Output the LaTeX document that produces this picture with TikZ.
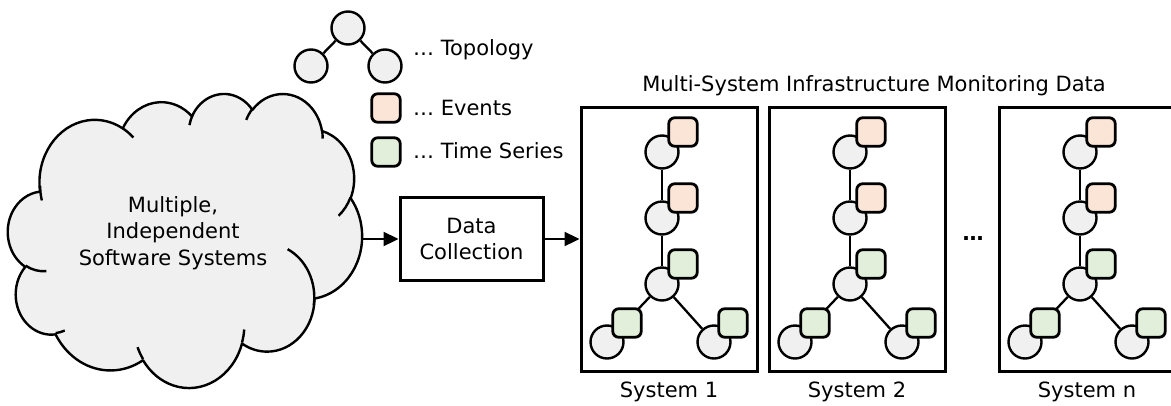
\documentclass[tikz,border=0pt]{standalone}
\usepackage{fontspec}
\setmainfont{DejaVu Sans}
\usetikzlibrary{arrows.meta}
\definecolor{nodegray}{HTML}{F0F0F0}
\definecolor{evfill}{HTML}{FBE5D6}
\definecolor{tsfill}{HTML}{E2EFDA}
% cloud (Office-style) geometry helpers; move coordinates given in tenths
\newcommand\ooSX{0.0081944}
\newcommand\ooSY{0.0068056}
\newcommand\ooOX{8}
\newcommand\ooOY{93}
\newcommand\ooMove[2]{\pgfpathmoveto{\pgfpointxy{\ooOX+#1*\ooSX*10}{\ooOY+#2*\ooSY*10}}}
\newcommand\ooArc[4]{%
  \pgfmathsetmacro\ooS{#3}%
  \pgfmathsetmacro\ooE{#3+#4}%
  \pgfmathsetmacro\ooTS{atan2(#1*sin(\ooS),#2*cos(\ooS))}%
  \pgfmathsetmacro\ooTE{atan2(#1*sin(\ooE),#2*cos(\ooE))}%
  \pgfmathsetmacro\ooD{\ooTE-(\ooTS)}%
  \pgfmathsetmacro\ooD{\ooD<0 ? \ooD+360 : \ooD}%
  \pgfmathsetmacro\ooD{\ooD>360 ? \ooD-360 : \ooD}%
  \pgfmathsetmacro\ooA{0-(\ooTS)}%
  \pgfmathsetmacro\ooB{0-(\ooTS)-(\ooD)}%
  \pgfmathsetmacro\ooRX{#1*\ooSX}%
  \pgfmathsetmacro\ooRY{#2*\ooSY}%
  \pgfpatharc{\ooA}{\ooB}{\ooRX pt and \ooRY pt}%
}
\tikzset{
  every node/.style={font=\fontsize{21}{26.5}\selectfont},
  topo/.style={circle, draw, line width=2.4pt, fill=nodegray, minimum size=33pt, inner sep=0pt},
  evsq/.style={draw, line width=2.8pt, fill=evfill, rounded corners=6pt, minimum size=28.5pt, inner sep=0pt},
  tssq/.style={draw, line width=2.8pt, fill=tsfill, rounded corners=6pt, minimum size=28.5pt, inner sep=0pt},
  link/.style={line width=2.3pt},
  sysbox/.style={draw, line width=3pt, minimum width=176pt, minimum height=264pt, inner sep=0pt},
  procbox/.style={draw, line width=3pt, minimum width=143pt, minimum height=83pt, inner sep=0pt, align=center},
  flow/.style={line width=2.3pt, -{Triangle[length=15pt,width=14pt]}},
  legtext/.style={anchor=base west, inner sep=0pt},
}
\begin{document}
\begin{tikzpicture}[x=1pt, y=-1pt]
\useasboundingbox (0,0) rectangle (1171,405);

% ---- cloud ----
\begin{pgfscope}
  \pgfsetlinewidth{2.4pt}
  \pgfsetroundjoin
  \pgfsetfillcolor{nodegray}
  \pgfsetstrokecolor{black}
  \ooMove{390.0}{1437.0}
  \ooArc{6753}{9190}{-190.4875}{123.7805}
  \ooArc{5333}{7267}{-144.1024}{89.9452}
  \ooArc{4365}{5945}{-145.8079}{99.7230}
  \ooArc{4857}{6595}{-130.9861}{117.2417}
  \ooArc{5333}{7273}{-78.7089}{109.0269}
  \ooArc{6775}{9220}{-46.2673}{130.2690}
  \ooArc{5785}{7867}{0.6250}{114.0333}
  \ooArc{6752}{9215}{22.4516}{115.1726}
  \ooArc{7720}{10543}{66.2426}{75.7110}
  \ooArc{4360}{5918}{-274.9421}{146.7356}
  \ooArc{4345}{5945}{-246.8285}{152.5189}
  \pgfpathclose
  \pgfusepath{fill,stroke}
  \ooMove{469.3}{2617.7}\ooArc{4345}{5945}{86.7420}{26.4295}
  \ooMove{692.8}{3489.9}\ooArc{4360}{5918}{73.6105}{11.4475}
  \ooMove{1647.8}{3909.0}\ooArc{6752}{9215}{137.6242}{14.0811}
  \ooMove{2882.7}{3475.1}\ooArc{6752}{9215}{6.4533}{15.9984}
  \ooMove{3412.9}{2295.4}\ooArc{5785}{7867}{-70.2924}{81.5727}
  \ooMove{4179.8}{1535.4}\ooArc{5333}{7273}{30.3180}{27.7515}
  \ooMove{3832.4}{542.6}\ooArc{4857}{6595}{-13.7443}{14.8512}
  \ooMove{2907.8}{395.2}\ooArc{4857}{6595}{-149.1815}{18.1909}
  \ooMove{2214.1}{472.0}\ooArc{4365}{5945}{-163.4943}{17.6848}
  \ooMove{1400.0}{519.2}\ooArc{6753}{9190}{-66.7070}{12.3194}
  \ooMove{412.7}{1578.9}\ooArc{6753}{9190}{160.7670}{18.1161}
  \pgfusepath{stroke}
\end{pgfscope}
\node[minimum width=354pt, minimum height=294pt, inner sep=0pt] (cloud) at (185,239) {};
\node[align=center, inner sep=0pt] (cloudlabel) at (173,232.8) {Multiple,\\Independent\\Software Systems};

% ---- legend ----
\node[topo] (legtop) at (348,28) {};
\node[topo] (legleft) at (311,66) {};
\node[topo] (legright) at (385,66) {};
\draw[link] (legtop) -- (legleft);
\draw[link] (legtop) -- (legright);
\node[legtext] (legtopotext) at (413,55) {… Topology};
\node[evsq] (legev) at (386,108) {};
\node[legtext] (legevtext) at (413,115) {… Events};
\node[tssq] (legts) at (386,152) {};
\node[legtext] (legtstext) at (413,158.3) {… Time Series};

% ---- data collection ----
\node[procbox] (collect) at (471.5,239) {Data\\Collection};
\draw[flow] (cloud.east) -- (collect.west);

% ---- title ----
\node[anchor=base, inner sep=0pt] (title) at (874,91.7) {Multi-System Infrastructure Monitoring Data};

% ---- systems ----
\foreach \L/\n/\lab in {580/1/System 1, 768/2/System 2, 998/3/System n}{
  \node[sysbox] (sys\n) at (\L+89,239) {};
  \node[anchor=base, inner sep=0pt] (syslab\n) at (\L+89,397) {\lab};
  \node[topo] (s\n c1) at (\L+82,152) {};
  \node[topo] (s\n c2) at (\L+82,218) {};
  \node[topo] (s\n c3) at (\L+82,284) {};
  \node[topo] (s\n c4) at (\L+27,342) {};
  \node[topo] (s\n c5) at (\L+134,342) {};
  \draw[link] (s\n c1) -- (s\n c2);
  \draw[link] (s\n c2) -- (s\n c3);
  \draw[link] (s\n c3) -- (s\n c4);
  \draw[link] (s\n c3) -- (s\n c5);
  \node[evsq] (s\n q1) at (\L+103,132) {};
  \node[evsq] (s\n q2) at (\L+103,198) {};
  \node[tssq] (s\n q3) at (\L+103,264) {};
  \node[tssq] (s\n q4) at (\L+47,323) {};
  \node[tssq] (s\n q5) at (\L+153,323) {};
}
\draw[flow] (collect.east) -- (sys1.west);
\node[anchor=base, inner sep=0pt] (dots) at (973,240.5) {\textbf{…}};
\end{tikzpicture}
\end{document}
